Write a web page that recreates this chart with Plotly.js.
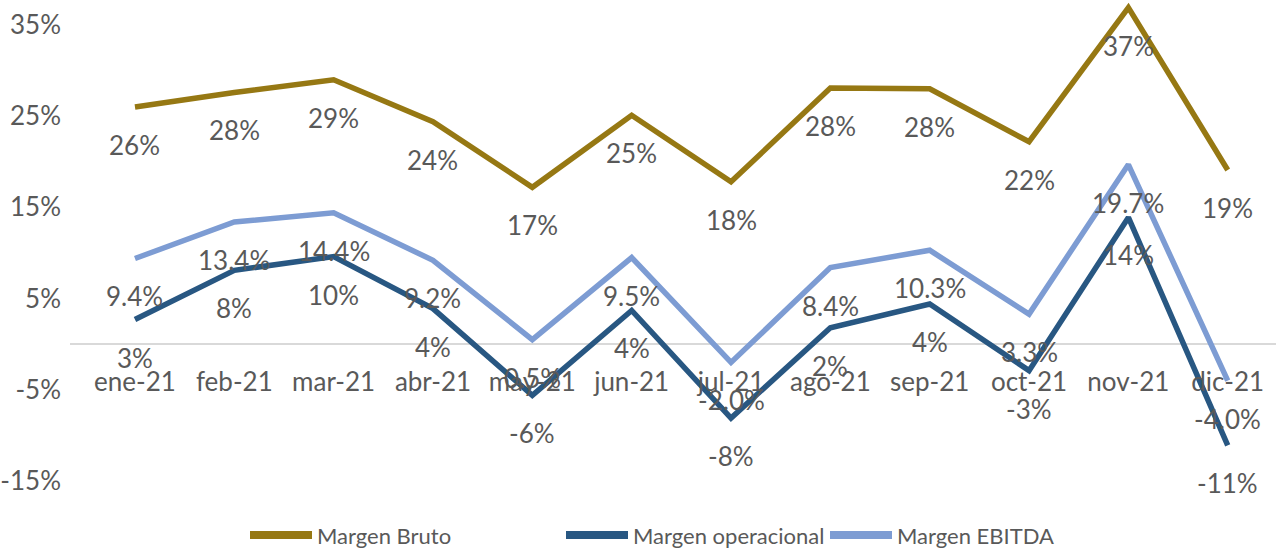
<!DOCTYPE html>
<html>
<head>
<meta charset="utf-8">
<script src="https://cdn.plot.ly/plotly-3.0.1.min.js"></script>
<style>html,body{margin:0;padding:0;background:#fff;}#chart{width:1276px;height:550px;}</style>
</head>
<body>
<div id="chart"></div>
<script>
const months = ['ene-21','feb-21','mar-21','abr-21','may-21','jun-21','jul-21','ago-21','sep-21','oct-21','nov-21','dic-21'];
const margenBruto = [26.0, 27.6, 29.0, 24.4, 17.2, 25.1, 17.8, 28.1, 28.0, 22.2, 36.9, 19.1];
const margenOperacional = [2.7, 8.1, 9.6, 3.9, -5.6, 3.7, -8.1, 1.8, 4.4, -2.9, 13.9, -11.1];
const margenEBITDA = [9.4, 13.4, 14.4, 9.2, 0.5, 9.5, -2.0, 8.4, 10.3, 3.3, 19.7, -4.0];
const yTickVals = [-15, -5, 5, 15, 25, 35];
const yTickText = ['-15%', '-5%', '5%', '15%', '25%', '35%'];

const FONT = "Lato, 'Open Sans', sans-serif";
const FS = 26;
const LFS = 22;
const GREY = '#595959';
const cBruto = '#967813';
const cOper = '#285782';
const cEbitda = '#7D9CD3';

const xIdx = months.map((m, i) => i);
const yMin = -15, yMax = 37.74;

const series = [
  {name: 'Margen Bruto', y: margenBruto, color: cBruto, dec: 0},
  {name: 'Margen operacional', y: margenOperacional, color: cOper, dec: 0},
  {name: 'Margen EBITDA', y: margenEBITDA, color: cEbitda, dec: 1}
];

const traces = series.map(s => ({
  type: 'scatter', mode: 'lines', name: s.name,
  x: xIdx, y: s.y,
  line: {color: s.color, width: 5.5},
  cliponaxis: false, hoverinfo: 'skip', showlegend: false
}));

const annotations = [];
series.forEach(s => {
  s.y.forEach((v, i) => {
    annotations.push({
      x: i, y: v, xref: 'x', yref: 'y',
      text: v.toFixed(s.dec) + '%',
      showarrow: false, yshift: -38,
      font: {family: FONT, size: FS, color: GREY}
    });
  });
});

// custom legend (layout positions in pixels, converted to paper coords)
const plotL = 70, plotW = 1206, plotH = 481;
const toPX = px => (px - plotL) / plotW;
const legendY = (plotH - 535) / plotH;
const legendStarts = [250, 566, 830];
const shapes = [];
series.forEach((s, k) => {
  const x0 = legendStarts[k];
  shapes.push({type: 'line', xref: 'paper', yref: 'paper',
    x0: toPX(x0), x1: toPX(x0 + 62), y0: legendY, y1: legendY,
    line: {color: s.color, width: 8}});
  annotations.push({xref: 'paper', yref: 'paper', x: toPX(x0 + 65), y: legendY,
    xanchor: 'left', yanchor: 'middle', showarrow: false, text: s.name,
    font: {family: FONT, size: LFS, color: GREY}});
});

const layout = {
  width: 1276, height: 550,
  margin: {l: 70, r: 0, t: 0, b: 69},
  paper_bgcolor: '#fff', plot_bgcolor: '#fff',
  font: {family: FONT, size: FS, color: GREY},
  showlegend: false,
  xaxis: {
    range: [-0.654, 11.486],
    tickmode: 'array', tickvals: xIdx, ticktext: months,
    showgrid: false, zeroline: false, showline: false, ticks: '',
    anchor: 'free', position: (0 - yMin) / (yMax - yMin),
    ticklabelstandoff: 20,
    tickfont: {family: FONT, size: FS, color: GREY}
  },
  yaxis: {
    range: [yMin, yMax],
    tickmode: 'array', tickvals: yTickVals, ticktext: yTickText,
    showgrid: false, zeroline: true, zerolinecolor: '#D9D9D9', zerolinewidth: 2,
    showline: false, ticks: '', ticklabelstandoff: 8,
    tickfont: {family: FONT, size: FS, color: GREY}
  },
  shapes: shapes,
  annotations: annotations
};

Plotly.newPlot('chart', traces, layout, {displayModeBar: false, staticPlot: true});
</script>
</body>
</html>
